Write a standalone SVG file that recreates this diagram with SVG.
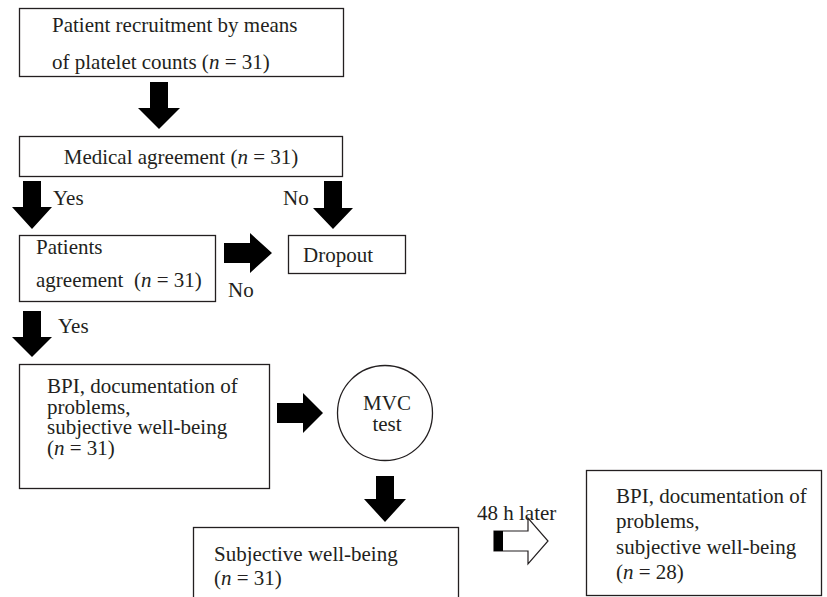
<svg xmlns="http://www.w3.org/2000/svg" width="827" height="597" viewBox="0 0 827 597">
<style>
.box{fill:#fff;stroke:#231f20;stroke-width:1.3}
.t{font-family:'Liberation Serif','DejaVu Serif',serif;font-size:21px;fill:#231f20}
.it{font-style:italic}
.arr{fill:#000}
</style>
<rect width="827" height="597" fill="#fff"/>
<g id="connectors">
<polygon class="arr" points="150,82 168,82 168,108 180,108 159,129 138,108 150,108"/>
<polygon class="arr" points="23,181 41,181 41,207 52,207 32,229 12,207 23,207"/>
<polygon class="arr" points="324,181 342,181 342,208 353,208 333,229 313,208 324,208"/>
<polygon class="arr" points="224,243 250,243 250,233 272,253 250,273 250,263 224,263"/>
<polygon class="arr" points="23,311 41,311 41,337 52,337 32,357 12,337 23,337"/>
<polygon class="arr" points="277,403 303,403 303,393 323,413 303,433 303,423 277,423"/>
<polygon class="arr" points="376,476 394,476 394,499 406,499 385,522 364,499 376,499"/>
<polygon points="494,531 528,531 528,518 548,541 528,564 528,551 494,551" fill="#fff" stroke="#231f20" stroke-width="1.2"/>
<rect x="494" y="531" width="9" height="20" fill="#000"/>
<text class="t" font-family="Liberation Serif, serif" x="53" y="205">Yes</text>
<text class="t" font-family="Liberation Serif, serif" x="283" y="205">No</text>
<text class="t" font-family="Liberation Serif, serif" x="228" y="297">No</text>
<text class="t" font-family="Liberation Serif, serif" x="58" y="333">Yes</text>
<text class="t" font-family="Liberation Serif, serif" x="477" y="520">48 h later</text>
</g>
<g id="recruitment">
<rect class="box" x="19.5" y="8.5" width="324" height="68"/>
<text class="t" font-family="Liberation Serif, serif" x="52" y="32">Patient recruitment by means</text>
<text class="t" font-family="Liberation Serif, serif" x="52" y="69">of platelet counts (<tspan class="it">n</tspan> = 31)</text>
</g>
<g id="medical">
<rect class="box" x="19.5" y="136.5" width="323" height="40"/>
<text class="t" font-family="Liberation Serif, serif" x="181" y="164" text-anchor="middle">Medical agreement (<tspan class="it">n</tspan> = 31)</text>
</g>
<g id="patients">
<rect class="box" x="19.5" y="235.5" width="196" height="66"/>
<text class="t" font-family="Liberation Serif, serif" x="36" y="254">Patients</text>
<text class="t" font-family="Liberation Serif, serif" x="36" y="287" xml:space="preserve">agreement  (<tspan class="it">n</tspan> = 31)</text>
</g>
<g id="dropout">
<rect class="box" x="288.5" y="235.5" width="117" height="38"/>
<text class="t" font-family="Liberation Serif, serif" x="303" y="262">Dropout</text>
</g>
<g id="bpi1">
<rect class="box" x="19.5" y="364.5" width="250" height="124"/>
<text class="t" font-family="Liberation Serif, serif" x="47" y="393">BPI, documentation of</text>
<text class="t" font-family="Liberation Serif, serif" x="47" y="413.5">problems,</text>
<text class="t" font-family="Liberation Serif, serif" x="47" y="434">subjective well-being</text>
<text class="t" font-family="Liberation Serif, serif" x="47" y="454.5">(<tspan class="it">n</tspan> = 31)</text>
</g>
<g id="mvc">
<circle cx="385" cy="413" r="47.5" fill="#fff" stroke="#231f20" stroke-width="1.3"/>
<text class="t" font-family="Liberation Serif, serif" x="387" y="410" text-anchor="middle">MVC</text>
<text class="t" font-family="Liberation Serif, serif" x="387" y="431" text-anchor="middle">test</text>
</g>
<g id="subjective">
<rect class="box" x="193.5" y="527.5" width="265" height="80"/>
<text class="t" font-family="Liberation Serif, serif" x="214" y="561">Subjective well-being</text>
<text class="t" font-family="Liberation Serif, serif" x="214" y="585">(<tspan class="it">n</tspan> = 31)</text>
</g>
<g id="bpi2">
<rect class="box" x="586.5" y="470.5" width="235" height="125"/>
<text class="t" font-family="Liberation Serif, serif" x="616" y="503">BPI, documentation of</text>
<text class="t" font-family="Liberation Serif, serif" x="616" y="528">problems,</text>
<text class="t" font-family="Liberation Serif, serif" x="616" y="554">subjective well-being</text>
<text class="t" font-family="Liberation Serif, serif" x="616" y="579">(<tspan class="it">n</tspan> = 28)</text>
</g>
</svg>
